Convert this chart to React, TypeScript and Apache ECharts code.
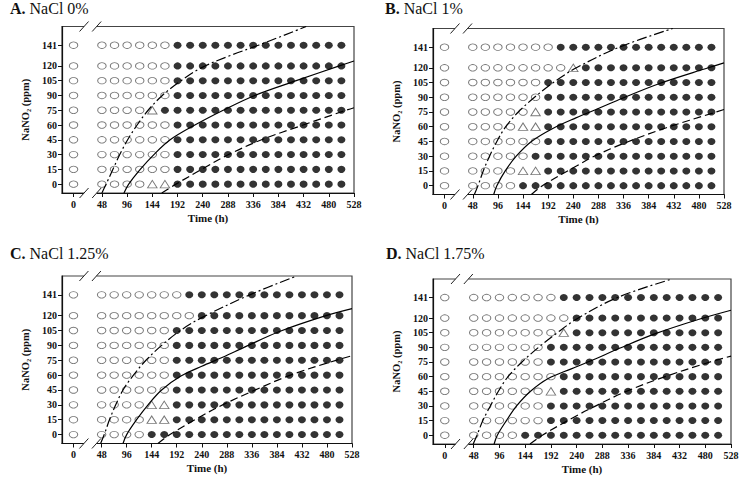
import React, { useEffect, useRef } from "react";
import * as echarts from "echarts";

// ---------- data ----------
const times = [0, 48, 72, 96, 120, 144, 168, 192, 216, 240, 264, 288, 312, 336, 360, 384, 408, 432, 456, 480, 504];
const nitriteLevels = [0, 15, 30, 45, 60, 75, 90, 105, 120, 141];
const timeTicks = [0, 48, 96, 144, 192, 240, 288, 336, 384, 432, 480, 528];
const nitriteTicks = [0, 15, 30, 45, 60, 75, 90, 105, 120, 141];

const panelLetters = ["A.", "B.", "C.", "D."];
const panelTitles = ["NaCl 0%", "NaCl 1%", "NaCl 1.25%", "NaCl 1.75%"];

// one string per nitrite level (0 ... 141), one char per time column:
// o = no growth (open circle), t = triangle; columns past the string = growth (filled)
const statusA = ["ooooott", "ooooooo", "ooooooo", "ooooooo", "ooooooo", "ooooot", "ooooooo", "ooooooo", "ooooooo", "ooooooo"];
const statusB = ["ooooo", "ooooott", "oooooo", "ooooooo", "ooooott", "oooooot", "ooooooo", "ooooooo", "ooooooooot", "oooooooo"];
const statusC = ["ooooo", "ooooott", "ooooott", "ooooooo", "ooooooo", "ooooooo", "ooooooo", "ooooooo", "ooooooooo", "oooooooo"];
const statusD = ["ooooo", "ooooooo", "ooooooo", "ooooooot", "oooooooo", "ooooooo", "ooooooo", "oooooooot", "ooooooooo", "oooooooo"];

// boundary curves [time, NaNO2]
const dashDotA = [[48, -9], [56, 0], [69, 15], [82, 30], [97, 45], [115, 60], [136, 75], [163, 90], [196, 104], [237, 118], [290, 130], [346, 141], [437, 160]];
const solidA = [[90, -9], [99, 0], [121, 15], [147, 30], [178, 45], [225, 60], [279, 75], [339, 90], [418, 105], [500, 120], [528, 125]];
const dashedA = [[162, -9], [189, 0], [238, 15], [289, 30], [352, 45], [431, 60], [513, 75], [528, 77.5]];

const dashDotB = [[51, -9], [58, 0], [68, 15], [80, 30], [94, 45], [111, 60], [135, 75], [166, 90], [202, 105], [246, 120], [328, 141], [430, 160]];
const solidB = [[88, -9], [94, 0], [110, 15], [131, 30], [160, 45], [200, 58], [245, 69], [290, 79], [334, 89], [405, 104], [498, 120], [528, 125]];
const dashedB = [[160, -9], [181, 0], [246, 20], [280, 30], [341, 44], [418, 59], [507, 74], [528, 77.5]];

const dashDotC = [[46, -9], [53, 0], [63, 15], [75, 30], [89, 45], [109, 60], [133, 75], [163, 90], [199, 105], [240, 118], [332, 141], [422, 160]];
const solidC = [[89, -9], [96, 0], [115, 15], [137, 30], [163, 45], [200, 59], [240, 69], [280, 78], [325, 89], [389, 104], [472, 119], [528, 127]];
const dashedC = [[156, -9], [179, 0], [237, 18], [280, 30], [338, 44], [410, 60], [504, 76], [528, 79.5]];

const dashDotD = [[47, -9], [54, 0], [65, 15], [79, 30], [94, 45], [112, 60], [138, 75], [169, 90], [204, 105], [240, 119], [316, 141], [418, 160]];
const solidD = [[86, -9], [92, 0], [109, 15], [128, 30], [154, 45], [187, 58], [230, 68], [270, 77], [320, 89], [387, 104], [470, 119], [528, 128]];
const dashedD = [[153, -9], [176, 0], [240, 20], [272, 29], [329, 44], [400, 59], [483, 74], [528, 81]];

// ---------- layout ----------
const ZERO_AT = -6; // broken time axis: 0 h is drawn left of the break
const X_MIN = -28;
const X_MAX = 528;
const Y_MIN = -9;
const Y_MAX = 160;
const BREAK_1 = 14;
const BREAK_2 = 38;
const toAxis = (t: number) => (t === 0 ? ZERO_AT : t);

const FONT = "'Liberation Serif', 'Times New Roman', serif";

const panels = [
  { status: statusA, curves: [dashDotA, solidA, dashedA], grid: { left: 62, top: 26.5, width: 292, height: 166.5 }, title: { left: 10, top: 0 } },
  { status: statusB, curves: [dashDotB, solidB, dashedB], grid: { left: 433, top: 28.5, width: 291, height: 166 }, title: { left: 385, top: 0 } },
  { status: statusC, curves: [dashDotC, solidC, dashedC], grid: { left: 62, top: 276, width: 290, height: 167.5 }, title: { left: 10, top: 245 } },
  { status: statusD, curves: [dashDotD, solidD, dashedD], grid: { left: 433, top: 279, width: 298, height: 165 }, title: { left: 386, top: 245 } },
];

const curveStyles = [
  { type: [10, 3, 2, 3] },
  { type: "solid" },
  { type: [8, 4] },
];

function buildOption() {
  const grids: any[] = [];
  const xAxes: any[] = [];
  const yAxes: any[] = [];
  const series: any[] = [];
  const titles: any[] = [];

  panels.forEach((p, i) => {
    grids.push({
      ...p.grid,
      show: true,
      borderColor: "#444",
      borderWidth: 1.2,
      backgroundColor: "#fff",
    });
    titles.push({
      text: `{b|${panelLetters[i]}} ${panelTitles[i]}`,
      left: p.title.left,
      top: p.title.top,
      padding: 0,
      textStyle: {
        fontFamily: FONT,
        fontSize: 16,
        fontWeight: "normal",
        color: "#111",
        rich: { b: { fontFamily: FONT, fontSize: 16, fontWeight: "bold", color: "#111" } },
      },
    });
    const tickX = timeTicks.map(toAxis);
    xAxes.push({
      type: "value",
      gridIndex: i,
      min: X_MIN,
      max: X_MAX,
      name: "Time (h)",
      nameLocation: "middle",
      nameGap: 19,
      nameTextStyle: { fontFamily: FONT, fontSize: 11, fontWeight: "bold", color: "#111" },
      axisLine: { show: true, onZero: false, lineStyle: { color: "#111", width: 1.2 } },
      axisTick: { show: true, length: 4, customValues: tickX, lineStyle: { color: "#111" } },
      axisLabel: {
        customValues: tickX,
        margin: 6,
        fontFamily: FONT,
        fontSize: 10,
        fontWeight: "bold",
        color: "#111",
        formatter: (v: number) => (v === ZERO_AT ? "0" : String(v)),
      },
      splitLine: { show: false },
    });
    yAxes.push({
      type: "value",
      gridIndex: i,
      min: Y_MIN,
      max: Y_MAX,
      name: "NaNO\u2082 (ppm)",
      nameLocation: "middle",
      nameGap: 31,
      nameTextStyle: { fontFamily: FONT, fontSize: 10.5, fontWeight: "bold", color: "#111" },
      axisLine: { show: true, onZero: false, lineStyle: { color: "#111", width: 1.2 } },
      axisTick: { show: true, length: 4, customValues: nitriteTicks, lineStyle: { color: "#111" } },
      axisLabel: {
        customValues: nitriteTicks,
        margin: 5,
        fontFamily: FONT,
        fontSize: 10,
        fontWeight: "bold",
        color: "#111",
      },
      splitLine: { show: false },
    });

    const open: number[][] = [];
    const tri: number[][] = [];
    const filled: number[][] = [];
    nitriteLevels.forEach((n, r) => {
      const row = p.status[r];
      times.forEach((t, c) => {
        const ch = c < row.length ? row[c] : "f";
        const pt = [toAxis(t), n];
        if (ch === "o") open.push(pt);
        else if (ch === "t") tri.push(pt);
        else filled.push(pt);
      });
    });

    series.push({
      type: "scatter",
      xAxisIndex: i,
      yAxisIndex: i,
      data: filled,
      symbol: "circle",
      symbolSize: [8, 7],
      itemStyle: { color: "#000" },
      silent: true,
      z: 2,
    });
    series.push({
      type: "scatter",
      xAxisIndex: i,
      yAxisIndex: i,
      data: open,
      symbol: "circle",
      symbolSize: [8.5, 6.5],
      itemStyle: { color: "#fff", borderColor: "#555", borderWidth: 0.9 },
      silent: true,
      z: 2,
    });
    series.push({
      type: "scatter",
      xAxisIndex: i,
      yAxisIndex: i,
      data: tri,
      symbol: "triangle",
      symbolSize: [9.5, 7.5],
      itemStyle: { color: "#fff", borderColor: "#555", borderWidth: 0.9 },
      silent: true,
      z: 2,
    });
    p.curves.forEach((curve, k) => {
      series.push({
        type: "line",
        xAxisIndex: i,
        yAxisIndex: i,
        data: curve.map((d) => [toAxis(d[0]), d[1]]),
        showSymbol: false,
        symbol: "none",
        smooth: 0.35,
        clip: true,
        silent: true,
        lineStyle: { color: "#000", width: 1.2, type: curveStyles[k].type },
        z: 3,
      });
    });
  });

  return {
    animation: false,
    backgroundColor: "#fff",
    title: titles,
    grid: grids,
    xAxis: xAxes,
    yAxis: yAxes,
    series,
  };
}

export default function App() {
  const ref = useRef<HTMLDivElement>(null);

  useEffect(() => {
    if (!ref.current) return;
    const chart = echarts.init(ref.current, undefined, { renderer: "svg" });
    chart.setOption(buildOption() as any);

    // axis-break marks (two slashes) on the bottom and top frame lines
    const graphics: any[] = [];
    panels.forEach((_, i) => {
      const a = chart.convertToPixel({ gridIndex: i }, [BREAK_1, Y_MIN]) as number[];
      const b = chart.convertToPixel({ gridIndex: i }, [BREAK_2, Y_MAX]) as number[];
      const x1 = a[0];
      const x2 = b[0];
      [a[1], b[1]].forEach((yy) => {
        graphics.push({
          type: "rect",
          z: 100,
          silent: true,
          shape: { x: x1, y: yy - 2, width: x2 - x1, height: 4 },
          style: { fill: "#fff" },
        });
        [x1, x2].forEach((xx) => {
          graphics.push({
            type: "line",
            z: 101,
            silent: true,
            shape: { x1: xx - 4.5, y1: yy + 5, x2: xx + 4.5, y2: yy - 5 },
            style: { stroke: "#222", lineWidth: 1 },
          });
        });
      });
    });
    chart.setOption({ graphic: graphics } as any);

    return () => chart.dispose();
  }, []);

  return (
    <div
      ref={ref}
      style={{ position: "absolute", left: 0, top: 0, width: 747, height: 483, background: "#fff" }}
    />
  );
}
